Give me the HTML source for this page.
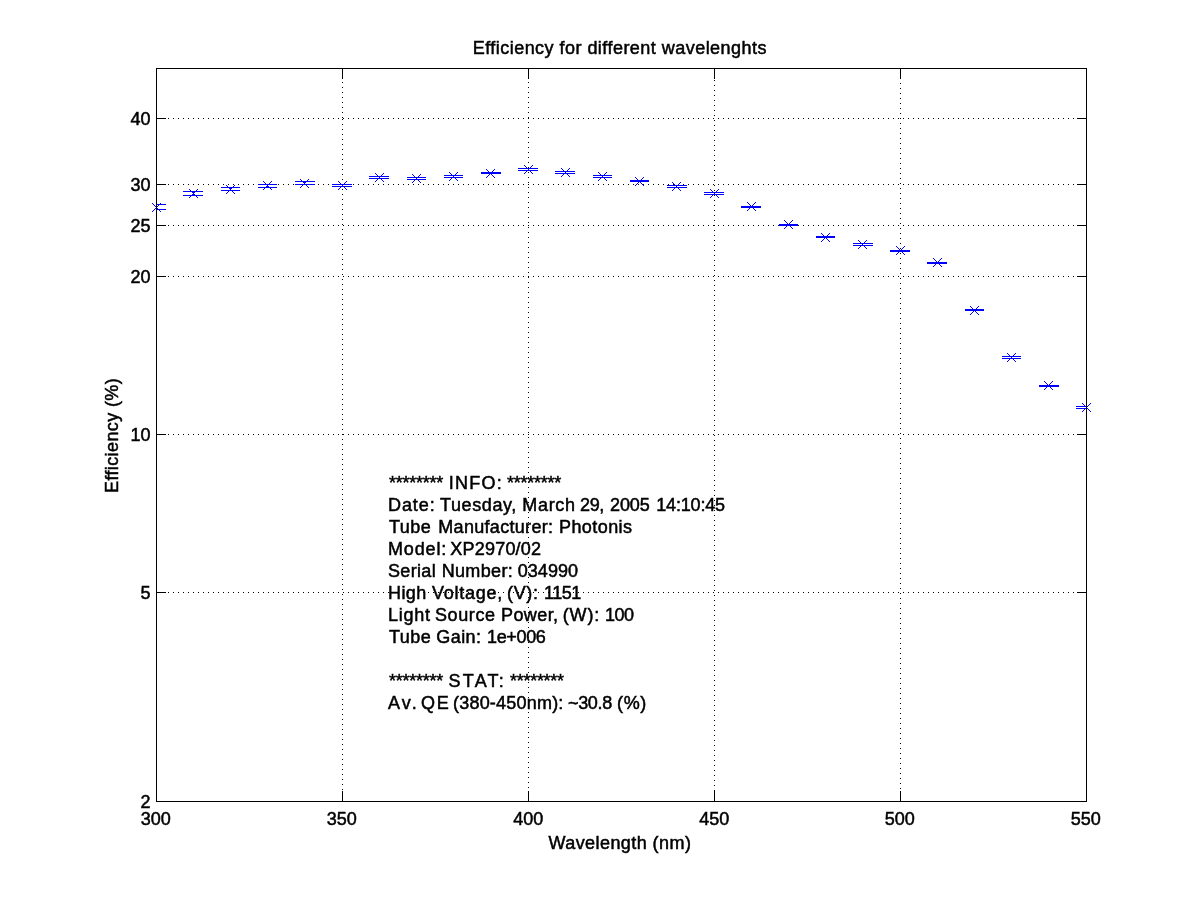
<!DOCTYPE html>
<html><head><meta charset="utf-8"><title>Efficiency for different wavelenghts</title>
<style>html,body{margin:0;padding:0;background:#fff}svg{display:block;will-change:transform}text{font-family:"Liberation Sans",sans-serif;font-size:18px;fill:#000}</style></head><body>
<svg width="1200" height="900" viewBox="0 0 1200 900">
<rect width="1200" height="900" fill="#fff"/>
<defs><clipPath id="c"><rect x="156" y="68" width="931" height="734"/></clipPath>
<path id="m" d="M-4 -4h1v1h-1zM-4 4h1v1h-1zM-3 -3h1v1h-1zM-3 3h1v1h-1zM-2 -2h1v1h-1zM-2 2h1v1h-1zM-1 -1h1v1h-1zM-1 1h1v1h-1zM0 0h1v1h-1zM1 1h1v1h-1zM1 -1h1v1h-1zM2 2h1v1h-1zM2 -2h1v1h-1zM3 3h1v1h-1zM3 -3h1v1h-1zM4 4h1v1h-1zM4 -4h1v1h-1z" fill="#0000ff"/></defs>
<g shape-rendering="crispEdges" stroke="#000" stroke-width="1" fill="none">
<line x1="158" y1="118.5" x2="1086" y2="118.5" stroke-dasharray="1 4"/>
<line x1="158" y1="184.5" x2="1086" y2="184.5" stroke-dasharray="1 4"/>
<line x1="158" y1="225.5" x2="1086" y2="225.5" stroke-dasharray="1 4"/>
<line x1="158" y1="276.5" x2="1086" y2="276.5" stroke-dasharray="1 4"/>
<line x1="158" y1="434.5" x2="1086" y2="434.5" stroke-dasharray="1 4"/>
<line x1="158" y1="592.5" x2="1086" y2="592.5" stroke-dasharray="1 4"/>
<line x1="342.5" y1="82" x2="342.5" y2="118" stroke-dasharray="1 4"/>
<line x1="342.5" y1="119" x2="342.5" y2="791" stroke-dasharray="1 4"/>
<line x1="528.5" y1="82" x2="528.5" y2="791" stroke-dasharray="1 4"/>
<line x1="714.5" y1="80" x2="714.5" y2="791" stroke-dasharray="1 4"/>
<line x1="900.5" y1="78" x2="900.5" y2="791" stroke-dasharray="1 4"/>
</g>
<g shape-rendering="crispEdges" fill="#0000ff">
<g clip-path="url(#c)">
<rect x="146" y="204" width="20" height="1"/>
<rect x="146" y="209" width="20" height="1"/>
<rect x="156" y="204" width="1" height="6"/>
<rect x="183" y="191" width="20" height="1"/>
<rect x="183" y="195" width="20" height="1"/>
<rect x="193" y="191" width="1" height="5"/>
<rect x="221" y="187" width="19" height="1"/>
<rect x="221" y="190" width="19" height="1"/>
<rect x="230" y="187" width="1" height="4"/>
<rect x="258" y="184" width="19" height="1"/>
<rect x="258" y="187" width="19" height="1"/>
<rect x="267" y="184" width="1" height="4"/>
<rect x="295" y="181" width="20" height="1"/>
<rect x="295" y="184" width="20" height="1"/>
<rect x="304" y="181" width="1" height="4"/>
<rect x="332" y="184" width="20" height="1"/>
<rect x="332" y="186" width="20" height="1"/>
<rect x="342" y="184" width="1" height="3"/>
<rect x="369" y="176" width="20" height="1"/>
<rect x="369" y="178" width="20" height="1"/>
<rect x="379" y="176" width="1" height="3"/>
<rect x="407" y="177" width="19" height="1"/>
<rect x="407" y="179" width="19" height="1"/>
<rect x="416" y="177" width="1" height="3"/>
<rect x="444" y="175" width="19" height="1"/>
<rect x="444" y="177" width="19" height="1"/>
<rect x="453" y="175" width="1" height="3"/>
<rect x="481" y="172" width="20" height="1"/>
<rect x="481" y="173" width="20" height="1"/>
<rect x="490" y="172" width="1" height="2"/>
<rect x="518" y="168" width="20" height="1"/>
<rect x="518" y="170" width="20" height="1"/>
<rect x="528" y="168" width="1" height="3"/>
<rect x="555" y="171" width="20" height="1"/>
<rect x="555" y="173" width="20" height="1"/>
<rect x="565" y="171" width="1" height="3"/>
<rect x="593" y="175" width="19" height="1"/>
<rect x="593" y="177" width="19" height="1"/>
<rect x="602" y="175" width="1" height="3"/>
<rect x="630" y="180" width="19" height="1"/>
<rect x="630" y="181" width="19" height="1"/>
<rect x="639" y="180" width="1" height="2"/>
<rect x="667" y="185" width="20" height="1"/>
<rect x="667" y="187" width="20" height="1"/>
<rect x="676" y="185" width="1" height="3"/>
<rect x="704" y="192" width="20" height="1"/>
<rect x="704" y="194" width="20" height="1"/>
<rect x="714" y="192" width="1" height="3"/>
<rect x="741" y="206" width="20" height="1"/>
<rect x="741" y="207" width="20" height="1"/>
<rect x="751" y="206" width="1" height="2"/>
<rect x="779" y="224" width="19" height="1"/>
<rect x="779" y="225" width="19" height="1"/>
<rect x="788" y="224" width="1" height="2"/>
<rect x="816" y="236" width="19" height="1"/>
<rect x="816" y="237" width="19" height="1"/>
<rect x="825" y="236" width="1" height="2"/>
<rect x="853" y="243" width="20" height="1"/>
<rect x="853" y="245" width="20" height="1"/>
<rect x="862" y="243" width="1" height="3"/>
<rect x="890" y="250" width="20" height="1"/>
<rect x="890" y="251" width="20" height="1"/>
<rect x="900" y="250" width="1" height="2"/>
<rect x="927" y="262" width="20" height="1"/>
<rect x="927" y="263" width="20" height="1"/>
<rect x="937" y="262" width="1" height="2"/>
<rect x="965" y="309" width="19" height="1"/>
<rect x="965" y="310" width="19" height="1"/>
<rect x="974" y="309" width="1" height="2"/>
<rect x="1002" y="356" width="19" height="1"/>
<rect x="1002" y="358" width="19" height="1"/>
<rect x="1011" y="356" width="1" height="3"/>
<rect x="1039" y="385" width="20" height="1"/>
<rect x="1039" y="386" width="20" height="1"/>
<rect x="1048" y="385" width="1" height="2"/>
<rect x="1076" y="406" width="20" height="1"/>
<rect x="1076" y="408" width="20" height="1"/>
<rect x="1086" y="406" width="1" height="3"/>
</g>
<use href="#m" x="156" y="207"/>
<use href="#m" x="193" y="193"/>
<use href="#m" x="230" y="189"/>
<use href="#m" x="267" y="185"/>
<use href="#m" x="304" y="183"/>
<use href="#m" x="342" y="185"/>
<use href="#m" x="379" y="177"/>
<use href="#m" x="416" y="178"/>
<use href="#m" x="453" y="176"/>
<use href="#m" x="490" y="173"/>
<use href="#m" x="528" y="169"/>
<use href="#m" x="565" y="172"/>
<use href="#m" x="602" y="176"/>
<use href="#m" x="639" y="181"/>
<use href="#m" x="676" y="186"/>
<use href="#m" x="714" y="193"/>
<use href="#m" x="751" y="206"/>
<use href="#m" x="788" y="224"/>
<use href="#m" x="825" y="237"/>
<use href="#m" x="862" y="244"/>
<use href="#m" x="900" y="250"/>
<use href="#m" x="937" y="262"/>
<use href="#m" x="974" y="310"/>
<use href="#m" x="1011" y="357"/>
<use href="#m" x="1048" y="385"/>
<use href="#m" x="1086" y="407"/>
</g>
<g shape-rendering="crispEdges" fill="#000">
<rect x="156" y="68" width="931" height="1"/>
<rect x="156" y="801" width="931" height="1"/>
<rect x="156" y="68" width="1" height="734"/>
<rect x="1086" y="68" width="1" height="734"/>
<rect x="157" y="118" width="9" height="1"/>
<rect x="1077" y="118" width="9" height="1"/>
<rect x="157" y="184" width="9" height="1"/>
<rect x="1077" y="184" width="9" height="1"/>
<rect x="157" y="225" width="9" height="1"/>
<rect x="1077" y="225" width="9" height="1"/>
<rect x="157" y="276" width="9" height="1"/>
<rect x="1077" y="276" width="9" height="1"/>
<rect x="157" y="434" width="9" height="1"/>
<rect x="1077" y="434" width="9" height="1"/>
<rect x="157" y="592" width="9" height="1"/>
<rect x="1077" y="592" width="9" height="1"/>
<rect x="342" y="791" width="1" height="10"/>
<rect x="342" y="69" width="1" height="10"/>
<rect x="528" y="791" width="1" height="10"/>
<rect x="528" y="69" width="1" height="10"/>
<rect x="714" y="791" width="1" height="10"/>
<rect x="714" y="69" width="1" height="10"/>
<rect x="900" y="791" width="1" height="10"/>
<rect x="900" y="69" width="1" height="10"/>
</g>
<g id="labels" stroke="#000" stroke-width="0.5">
<text x="472.70" y="54" style="letter-spacing:0.466px">Efficiency for different wavelenghts</text>
<text x="548.50" y="849" style="letter-spacing:0.429px">Wavelength (nm)</text>
<text transform="translate(117.5 493.00) rotate(-90)" style="letter-spacing:0.385px">Efficiency (%)</text>
<text x="326.70" y="825">350</text>
<text x="513.20" y="825">400</text>
<text x="699.20" y="825">450</text>
<text x="884.70" y="825">500</text>
<text x="140.70" y="825">300</text>
<text x="1070.70" y="825">550</text>
<text x="130.50" y="125">40</text>
<text x="130.50" y="191">30</text>
<text x="130.50" y="232">25</text>
<text x="130.50" y="283">20</text>
<text x="130.50" y="441">10</text>
<text x="140.50" y="599">5</text>
<text x="140.50" y="808">2</text>
<text y="489"><tspan x="389.00" style="letter-spacing:-0.243px">******** </tspan><tspan x="448.70" style="letter-spacing:1.250px">INFO: </tspan><tspan x="507.00" style="letter-spacing:-0.243px">********</tspan></text>
<text y="511"><tspan x="388.00" style="letter-spacing:0.925px">Date: </tspan><tspan x="440.00" style="letter-spacing:0.614px">Tuesday, </tspan><tspan x="522.30" style="letter-spacing:0.675px">March </tspan><tspan x="580.00" style="letter-spacing:-0.350px">29, </tspan><tspan x="610.00" style="letter-spacing:-0.100px">2005 </tspan><tspan x="656.30" style="letter-spacing:-0.186px">14:10:45</tspan></text>
<text y="533"><tspan x="389.00" style="letter-spacing:0.467px">Tube </tspan><tspan x="438.30" style="letter-spacing:0.308px">Manufacturer: </tspan><tspan x="559.00" style="letter-spacing:0.429px">Photonis</tspan></text>
<text y="555"><tspan x="388.00" style="letter-spacing:0.840px">Model: </tspan><tspan x="450.30" style="letter-spacing:0.212px">XP2970/02</tspan></text>
<text y="577"><tspan x="388.00" style="letter-spacing:0.340px">Serial </tspan><tspan x="441.70" style="letter-spacing:0.333px">Number: </tspan><tspan x="517.70" style="letter-spacing:0.060px">034990</tspan></text>
<text y="599"><tspan x="388.00" style="letter-spacing:0.433px">High </tspan><tspan x="432.00" style="letter-spacing:0.757px">Voltage, </tspan><tspan x="507.00" style="letter-spacing:0.667px">(V): </tspan><tspan x="544.00" style="letter-spacing:-0.500px">1151</tspan></text>
<text y="621"><tspan x="388.00" style="letter-spacing:0.750px">Light </tspan><tspan x="435.00" style="letter-spacing:0.600px">Source </tspan><tspan x="501.00" style="letter-spacing:0.400px">Power, </tspan><tspan x="562.80" style="letter-spacing:0.800px">(W): </tspan><tspan x="605.00" style="letter-spacing:-0.500px">100</tspan></text>
<text y="643"><tspan x="389.00" style="letter-spacing:0.467px">Tube </tspan><tspan x="436.30" style="letter-spacing:0.425px">Gain: </tspan><tspan x="487.00" style="letter-spacing:-0.340px">1e+006</tspan></text>
<text y="687"><tspan x="389.00" style="letter-spacing:-0.243px">******** </tspan><tspan x="448.60" style="letter-spacing:2.200px">STAT: </tspan><tspan x="510.00" style="letter-spacing:-0.286px">********</tspan></text>
<text y="709"><tspan x="388.00" style="letter-spacing:2.150px">Av. </tspan><tspan x="421.00" style="letter-spacing:1.700px">QE </tspan><tspan x="453.00" style="letter-spacing:0.209px">(380-450nm): </tspan><tspan x="568.00" style="letter-spacing:-0.325px">~30.8 </tspan><tspan x="617.00" style="letter-spacing:0.650px">(%)</tspan></text>
</g></svg></body></html>
